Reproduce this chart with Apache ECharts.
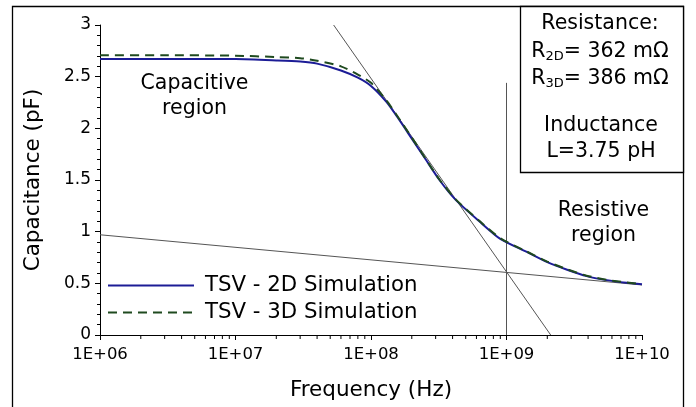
<!DOCTYPE html>
<html><head><meta charset="utf-8">
<script src="https://cdn.jsdelivr.net/npm/echarts@6/dist/echarts.min.js"></script>
<style>html,body{margin:0;padding:0;background:#fff}#c{width:696px;height:407px}</style>
</head><body><div id="c"></div>
<script>
var freq = [1e6,3e6,1e7,2e7,3e7,4e7,6e7,8e7,1e8,1.3e8,1.6e8,2e8,2.5e8,3.2e8,4.2e8,6.3e8,9e8,1.4e9,2e9,2.8e9,3.9e9,5.5e9,7.7e9,1e10];
var c2d  = [2.672,2.672,2.67,2.657,2.646,2.626,2.56,2.49,2.41,2.255,2.09,1.90,1.71,1.50,1.31,1.10,0.93,0.806,0.705,0.632,0.57,0.531,0.505,0.49];
var c3d  = [2.707,2.707,2.703,2.69,2.679,2.655,2.60,2.52,2.44,2.27,2.10,1.91,1.715,1.505,1.315,1.105,0.937,0.81,0.71,0.636,0.574,0.534,0.508,0.492];
var steepLine = [[5.3e7,3],[2.12e9,0]];
var shallowLine = [[1e6,0.97],[1e10,0.484]];
var vertLine = [[1e9,0],[1e9,2.44]];
var xTickLabels = {'6':'1E+06','7':'1E+07','8':'1E+08','9':'1E+09','10':'1E+10'};
var xMinorTicks = [];
[1e6,1e7,1e8,1e9].forEach(function(d){ for (var k=2;k<=9;k++) xMinorTicks.push([d*k,0]); });

var FONT = 'DejaVu Sans';
var chart = echarts.init(document.getElementById('c'), null, {renderer:'canvas'});
function pairs(xs, ys){ return xs.map(function(x,i){return [x, ys[i]];}); }
var grayLine = {color:'#555', width:1};
function txt(s, x, y, size){
  return {type:'text', z:11, x:x, y:y, silent:true,
    style:{text:s, fontFamily:FONT, fontSize:size||20.5, fill:'#000', align:'center', verticalAlign:'middle'}};
}
function rtxt(main, sub, rest, x, y){
  return {type:'text', z:11, x:x, y:y, silent:true,
    style:{text:main + '{s|' + sub + '}' + rest, fontFamily:FONT, fontSize:20.5, fill:'#000',
      align:'center', verticalAlign:'middle',
      rich:{s:{fontFamily:FONT, fontSize:13, fill:'#000', padding:[9,0,0,0]}}}};
}
chart.setOption({
  animation:false,
  backgroundColor:'#fff',
  textStyle:{fontFamily:FONT},
  grid:{left:100, right:54, top:25, bottom:72},
  xAxis:{type:'log', logBase:10, min:1e6, max:1e10,
    name:'Frequency (Hz)', nameLocation:'middle', nameGap:44,
    nameTextStyle:{fontFamily:FONT, fontSize:21.5, color:'#000'},
    axisLine:{lineStyle:{color:'#000', width:1}},
    axisTick:{length:5, lineStyle:{color:'#000'}},
    axisLabel:{fontFamily:FONT, fontSize:16.5, color:'#000', margin:11,
      formatter:function(v){return xTickLabels[String(Math.round(Math.log10(v)))] || '';}},
    splitLine:{show:false}, minorTick:{show:false}},
  yAxis:{type:'value', min:0, max:3, interval:0.5,
    name:'Capacitance (pF)', nameLocation:'middle', nameGap:56,
    nameTextStyle:{fontFamily:FONT, fontSize:21.5, color:'#000'},
    axisLine:{show:true, lineStyle:{color:'#000', width:1}},
    axisTick:{show:true, length:5, lineStyle:{color:'#000'}},
    minorTick:{show:true, splitNumber:5, length:3, lineStyle:{color:'#000'}},
    axisLabel:{fontFamily:FONT, fontSize:17, color:'#000', margin:9},
    splitLine:{show:false}},
  legend:{orient:'vertical', left:102, top:270, itemWidth:86, itemHeight:14, itemGap:6,
    data:['TSV - 2D Simulation','TSV - 3D Simulation'],
    itemStyle:{opacity:0},
    textStyle:{fontFamily:FONT, fontSize:21.3, color:'#000', padding:[0,0,0,6]}},
  series:[
    {type:'line', data:steepLine, symbol:'none', lineStyle:grayLine, silent:true, z:1},
    {type:'line', data:shallowLine, symbol:'none', lineStyle:grayLine, silent:true, z:1},
    {type:'line', data:vertLine, symbol:'none', lineStyle:grayLine, silent:true, z:1},
    {type:'custom', data:xMinorTicks, silent:true, clip:false, z:3,
      renderItem:function(params, api){
        var p = api.coord([api.value(0), 0]);
        return {type:'line', shape:{x1:p[0], y1:p[1], x2:p[0], y2:p[1]+4},
          style:{stroke:'#000', lineWidth:1}};
      }},
    {name:'TSV - 2D Simulation', type:'line', data:pairs(freq,c2d), symbol:'none', smooth:0.25,
      lineStyle:{color:'#1c1c96', width:2}, itemStyle:{color:'#1c1c96'}, z:2},
    {name:'TSV - 3D Simulation', type:'line', data:pairs(freq,c3d), symbol:'none', smooth:0.25,
      lineStyle:{color:'#1f4a1f', width:2, type:[9,6]}, itemStyle:{color:'#1f4a1f'}, z:3}
  ],
  graphic:[
    {type:'rect', shape:{x:12.5, y:6.5, width:671, height:420}, style:{fill:'none', stroke:'#000', lineWidth:1.3}, silent:true},
    {type:'rect', shape:{x:520.5, y:6.5, width:163, height:166}, style:{fill:'#fff', stroke:'#000', lineWidth:1.3}, silent:true, z:10},
    txt('Capacitive', 194.5, 83.3),
    txt('region', 194.5, 109),
    txt('Resistive', 603.5, 210.5),
    txt('region', 603.5, 235.5),
    txt('Resistance:', 600, 24),
    rtxt('R', '2D', '= 362 mΩ', 600, 52),
    rtxt('R', '3D', '= 386 mΩ', 600, 79),
    txt('Inductance', 601, 126),
    txt('L=3.75 pH', 601, 152)
  ]
});
</script></body></html>
